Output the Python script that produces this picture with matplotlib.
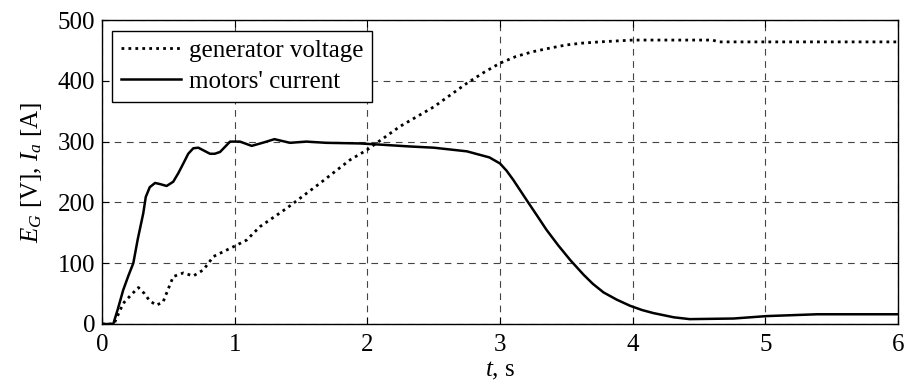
import matplotlib
matplotlib.use("Agg")
import matplotlib.pyplot as plt

# motors' current (solid)
t_current = [0.0, 0.085, 0.12, 0.16, 0.20, 0.236, 0.27, 0.311, 0.33, 0.36, 0.40, 0.44,
             0.487, 0.537, 0.575, 0.613, 0.65, 0.688, 0.726, 0.77, 0.814, 0.85, 0.89,
             0.93, 0.965, 1.04, 1.128, 1.21, 1.30, 1.417, 1.54, 1.69, 1.94, 2.10, 2.32,
             2.50, 2.75, 2.92, 3.0, 3.05, 3.10, 3.20, 3.28, 3.35, 3.44, 3.53, 3.63, 3.70,
             3.78, 3.88, 3.98, 4.07, 4.155, 4.31, 4.43, 4.76, 5.01, 5.39, 6.0]
i_current = [0, 0, 25, 56, 80, 100, 140, 182, 209, 225, 232, 230,
             227, 234, 248, 264, 280, 289, 290, 285, 280, 280, 283,
             292, 300, 300, 293, 298, 304, 298, 300, 298, 297, 295, 292,
             290, 284, 274, 264, 252, 237, 204, 178, 155, 129, 105, 81, 66,
             52, 40, 30, 23, 18, 11, 8, 9, 13, 16, 16]

# generator voltage (dotted)
t_voltage = [0.0, 0.09, 0.16, 0.22, 0.274, 0.32, 0.36, 0.41, 0.46, 0.50, 0.537, 0.613,
             0.688, 0.764, 0.84, 0.99, 1.09, 1.19, 1.39, 1.64, 1.87, 1.995, 2.246,
             2.50, 2.75, 2.88, 3.0, 3.12, 3.25, 3.38, 3.50, 3.62, 3.75, 4.0, 4.60, 4.65, 6.0]
e_voltage = [0, 0, 34, 48, 60, 50, 38, 31, 36, 58, 78, 84,
             79, 89, 111, 127, 138, 160, 190, 231, 270, 286, 325,
             357, 396, 414, 429, 440, 448, 454, 459, 462, 464, 467, 467, 464, 464]

plt.rcParams['font.family'] = ['Liberation Serif', 'DejaVu Serif']
plt.rcParams['mathtext.fontset'] = 'custom'
plt.rcParams['mathtext.it'] = 'Liberation Serif:italic'
plt.rcParams['mathtext.rm'] = 'Liberation Serif'

fig = plt.figure(figsize=(9.05, 3.87), dpi=100)
ax = fig.add_axes([0.1127, 0.1628, 0.8796, 0.7855])

ax.plot(t_voltage, e_voltage, color='black', linestyle=(0, (1, 1.5)), linewidth=2.0,
        label='generator voltage')
ax.plot(t_current, i_current, color='black', linestyle='-', linewidth=1.8,
        label="motors' current")

ax.set_xlim(0, 6)
ax.set_ylim(0, 500)
ax.set_xticks([0, 1, 2, 3, 4, 5, 6])
ax.set_yticks([0, 100, 200, 300, 400, 500])
ax.grid(True, color='#444444', linestyle=(0, (6, 5)), linewidth=0.8)
ax.tick_params(direction='in', length=5, labelsize=18, top=True, right=True)
ax.tick_params(axis='x', pad=7)
ax.tick_params(axis='y', pad=5)
for s in ax.spines.values():
    s.set_linewidth(1.0)

ax.set_xlabel('$t$, s', fontsize=18, labelpad=3)
ax.set_ylabel('$E_G$ [V], $I_a$ [A]', fontsize=18, labelpad=10)

leg = ax.legend(loc='upper left', fontsize=18, frameon=True, fancybox=False,
                edgecolor='black', framealpha=1, borderpad=0.35, labelspacing=0.35,
                handlelength=2.4, handletextpad=0.3, borderaxespad=0.42)
leg.get_frame().set_linewidth(1.0)

fig.savefig('out.png', dpi=100)
